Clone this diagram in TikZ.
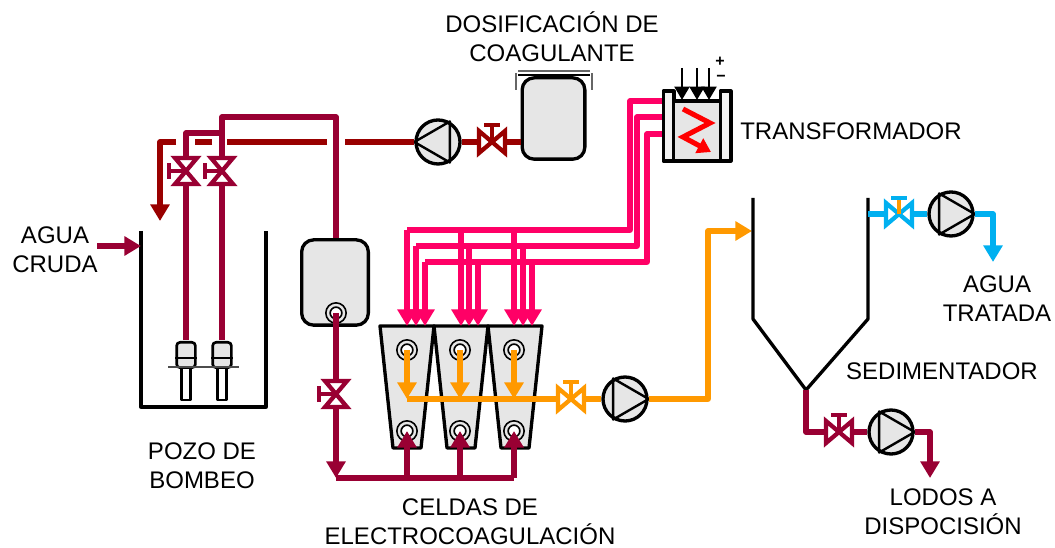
\documentclass[tikz,border=0pt]{standalone}
\usepackage{fontspec}
\setmainfont{Liberation Sans}
\usepackage{xcolor}
\usetikzlibrary{arrows.meta}
\definecolor{vino}{HTML}{990033}
\definecolor{rojo}{HTML}{990000}
\definecolor{rosa}{HTML}{FF0066}
\definecolor{naranja}{HTML}{FF9900}
\definecolor{celeste}{HTML}{00B0F0}
\definecolor{relleno}{HTML}{E6E6E6}

\begin{document}
\begin{tikzpicture}[
  x=0.75pt, y=-0.75pt,
  txt/.style={align=center, font=\fontsize{18}{21.75}\selectfont, inner sep=0pt},
  tubo/.style={line width=3.8pt, line join=round},
  arr/.style={tubo, -{Stealth[length=12.5pt, width=14pt, inset=0pt]}},
  pared/.style={line width=2.5pt, draw=black, line join=round},
  tanque/.style={pared, fill=relleno, rounded corners=9pt, minimum width=50pt, inner sep=0pt},
  bomba/.style={circle, draw=black, line width=2.5pt, fill=relleno, minimum size=33pt, inner sep=0pt},
  boquilla/.style={circle, draw=black, line width=1.3pt, double=relleno, double distance=1.8pt,
                   fill=white, minimum size=12pt, inner sep=0pt},
  barra/.style={pared, fill=relleno!50, inner sep=0pt, minimum height=52.5pt},
  valvula/.pic={
    \draw[line width=3.2pt, line join=miter, fill=white, draw=#1]
      (-13,-11) -- (-13,11) -- (13,-11) -- (13,11) -- cycle;
    \draw[line width=3.2pt, draw=#1] (0,0) -- (0,-17) (-8,-17) -- (8,-17);
  },
  valvulaf/.pic={
    \draw[line width=3.2pt, line join=miter, fill=white, draw=celeste]
      (-13,-11) -- (-13,11) -- (13,-11) -- (13,11) -- cycle;
    \draw[line width=3.2pt, draw=naranja] (0,0) -- (0,-15);
    \draw[line width=3.2pt, draw=celeste] (-8,-16) -- (8,-16);
  }
]
% limites
\useasboundingbox (0,0) rectangle (1055,548);

% equipos
\node[bomba] (bombaC) at (438,142) {};
\node[bomba] (bombaN) at (625,399) {};
\node[bomba] (bombaA) at (951,214) {};
\node[bomba] (bombaL) at (891,432) {};
\foreach \bb/\aa/\ab/\ac in {bombaC/60/300/180, bombaN/120/240/0, bombaA/120/240/0, bombaL/120/240/0}
  \draw[line width=1.8pt, line join=round] (\bb.\aa) -- (\bb.\ab) -- (\bb.\ac) -- cycle;

\node[tanque, minimum height=61pt, minimum width=47pt] (dosif) at (553.5,118.5) {};
\node[tanque, minimum height=64pt] (mezcla) at (335,282.5) {};
\foreach \cc in {407,461,515}
  \draw[pared, fill=relleno] ({\cc-27},326) -- ({\cc+27},326) -- ({\cc+14},448) -- ({\cc-14},448) -- cycle;

% nodos de paso
\coordinate (lineaA) at (160,142);
\coordinate (lineaB) at (176,142);
\coordinate (lineaC) at (195,142);
\coordinate (lineaD) at (212,142);
\coordinate (lineaE) at (227,142);
\coordinate (lineaF) at (327,142);
\coordinate (lineaG) at (345,142);
\coordinate (finC) at (160,221);
\coordinate (valvC) at (492,142);
\coordinate (impA) at (186,340);
\coordinate (impB) at (222,340);
\coordinate (codoA) at (186,133);
\coordinate (codoB) at (222,133);
\coordinate (codoC) at (222,117);
\coordinate (codoD) at (336,117);
\coordinate (valvA) at (186,171);
\coordinate (valvB) at (222,171);
\coordinate (boqM) at (336,313);
\coordinate (valvM) at (336,394);
\coordinate (finM) at (336,478);
\coordinate (colec) at (514,478);
\coordinate (entCruda) at (97,246);
\coordinate (finCruda) at (141,246);

% pozo de bombeo
\coordinate (pozoA) at (141,231);
\coordinate (pozoB) at (141,407);
\coordinate (pozoC) at (266,407);
\coordinate (pozoD) at (266,231);
\draw[pared] (pozoA) -- (pozoB) -- (pozoC) -- (pozoD);
\foreach \xx in {186,222} {
  \node[pared, line width=2pt, fill=white, minimum width=6.5pt, minimum height=24pt, inner sep=0pt] (pie\xx) at (\xx,384) {};
  \node[pared, line width=2pt, fill=relleno, rounded corners=2.5pt, minimum width=14pt, minimum height=19pt, inner sep=0pt] (cab\xx) at (\xx,355) {};
  \draw[line width=1.4pt] ([yshift=-2.25pt]cab\xx.west) -- ([yshift=-2.25pt]cab\xx.east);
}
\coordinate (barraA) at (168,367);
\coordinate (barraB) at (239,367);
\draw[line width=0.8pt, black!70] (barraA) -- (barraB);

% tuberia de coagulante
\draw[tubo, rojo] (valvC -| dosif.west) -- (bombaC);
\draw[tubo, rojo] (bombaC) -- (lineaG);
\draw[tubo, rojo] (lineaF) -- (lineaE);
\draw[tubo, rojo] (lineaD) -- (lineaC);
\draw[arr, rojo] (lineaB) -- (lineaA) -- (finC);

% tuberia de agua cruda
\draw[tubo, vino] (impA) -- (codoA) -- (codoB);
\draw[tubo, vino] (impB) -- (codoC) -- (codoD) -- (mezcla.north -| codoD);
\draw[arr, vino] (entCruda) -- (finCruda);
\draw[tubo, vino] (finM) -- (colec);

% boquillas
\node[boquilla] (nozM) at (boqM) {};
\foreach \cc in {407,460,514} {
  \node[boquilla] (sup\cc) at (\cc,350) {};
  \node[boquilla] (inf\cc) at (\cc,431) {};
  \coordinate (colec\cc) at (\cc,478);
  \draw[arr, vino] (colec\cc) -- (inf\cc.center);
}
\draw[arr, vino] (boqM) -- (finM);

% salida de las celdas
\coordinate (colN) at (407,399);
\coordinate (valvN) at (571,399);
\draw[tubo, naranja] (colN) -- (bombaN);
\foreach \cc in {407,460,514} {
  \coordinate (colN\cc) at (\cc,399);
  \draw[arr, naranja] (sup\cc.center) -- (colN\cc);
}
\coordinate (codoN) at (708,399);
\coordinate (codoO) at (708,231);
\coordinate (entSed) at (752,231);
\draw[arr, naranja] (bombaN) -- (codoN) -- (codoO) -- (entSed);

% transformador
\coordinate (bt1) at (663,101);
\coordinate (bt2) at (663,117);
\coordinate (bt3) at (663,134);
\draw[tubo, rosa] (bt1) -- (630,101) -- (630,230) -- (407,230);
\draw[tubo, rosa] (bt2) -- (637,117) -- (637,246) -- (416,246);
\draw[tubo, rosa] (bt3) -- (647,134) -- (647,262) -- (425,262);
\foreach \xx/\yy in {407/230,416/246,425/262,461/230,469/246,478/262,514/230,523/246,532/262} {
  \coordinate (bus\xx) at (\xx,\yy);
  \coordinate (cel\xx) at (\xx,326);
  \draw[arr, rosa] (bus\xx) -- (cel\xx);
}
\node[barra, minimum width=8pt] (trafoI) at (668.5,126) {};
\node[barra, minimum width=8pt] (trafoD) at (725.5,126) {};
\node[pared, fill=relleno, minimum width=35pt, minimum height=45pt, inner sep=0pt] (nucleo) at (697,131) {};
\foreach \xx in {682,697,709} {
  \coordinate (ent\xx) at (\xx,68);
  \coordinate (sal\xx) at (\xx,100);
  \draw[line width=2.2pt, -{Stealth[length=10pt, width=11pt, inset=0pt]}] (ent\xx) -- (sal\xx);
}
\coordinate (rayoA) at (683,109);
\coordinate (rayoB) at (710,123);
\coordinate (rayoC) at (683,137);
\coordinate (rayoD) at (711,152);
\draw[line width=3.8pt, red, miter limit=10, -{Stealth[length=10pt, width=12pt, inset=0pt]}] (rayoA) -- (rayoB) -- (rayoC) -- (rayoD);

% sedimentador
\coordinate (sedA) at (753,198);
\coordinate (sedB) at (753,319);
\coordinate (sedC) at (806,390);
\coordinate (sedD) at (868,319);
\coordinate (sedE) at (868,198);
\draw[pared] (sedA) -- (sedB) -- (sedC) -- (sedD) -- (sedE);

% salidas
\coordinate (salA) at (868,214);
\coordinate (valvS) at (899,214);
\coordinate (codoS) at (993,214);
\coordinate (finS) at (993,262);
\draw[tubo, celeste] (salA) -- (bombaA);
\draw[arr, celeste] (bombaA) -- (codoS) -- (finS);
\coordinate (codoL) at (806,432);
\coordinate (valvL) at (839,432);
\coordinate (codoP) at (930,432);
\coordinate (finL) at (930,478);
\draw[tubo, vino] (sedC) -- (codoL) -- (bombaL);
\draw[arr, vino] (bombaL) -- (codoP) -- (finL);

% valvulas
\pic[rotate=90] at (valvA) {valvula=vino};
\pic[rotate=90] at (valvB) {valvula=vino};
\pic[rotate=90] at (valvM) {valvula=vino};
\pic at (valvC) {valvula=rojo};
\pic at (valvN) {valvula=naranja};
\pic at (valvL) {valvula=vino};
\pic at (valvS) {valvulaf};

% tapa del tanque dosificador
\coordinate (tapaA) at (516,90);
\coordinate (tapaB) at (516,73);
\coordinate (tapaC) at (592,73);
\coordinate (tapaD) at (592,90);
\draw[line width=1.6pt, black!60] (tapaA) -- (tapaB) (tapaC) -- (tapaD);
\coordinate (tapaE) at (518,71);
\coordinate (tapaF) at (590,71);
\draw[line width=1.4pt, black!60] (tapaE) -- (tapaF);
\coordinate (tapaG) at (518,75);
\coordinate (tapaH) at (590,75);
\draw[line width=1.6pt, black] (tapaG) -- (tapaH);

% rotulos
\node[txt] (lblCruda) at (55,250) {AGUA\\CRUDA};
\node[txt] (lblPozo) at (202,466) {POZO DE\\BOMBEO};
\node[txt] (lblDosif) at (552,37) {DOSIFICACIÓN DE\\COAGULANTE};
\node[txt, anchor=west] (lblTrafo) at (740,131) {TRANSFORMADOR};
\node[txt] (lblCeldas) at (470,522) {CELDAS DE\\ELECTROCOAGULACIÓN};
\node[txt] (lblTratada) at (997,299) {AGUA\\TRATADA};
\node[txt] (lblSed) at (942,371) {SEDIMENTADOR};
\node[txt] (lblLodos) at (943,512) {LODOS A\\DISPOCISIÓN};
\node[font=\bfseries\fontsize{12}{12}\selectfont, inner sep=0pt] (mas) at (720,62) {+};
\node[font=\bfseries\fontsize{12}{12}\selectfont, inner sep=0pt] (menos) at (721,78) {−};
\end{tikzpicture}
\end{document}
